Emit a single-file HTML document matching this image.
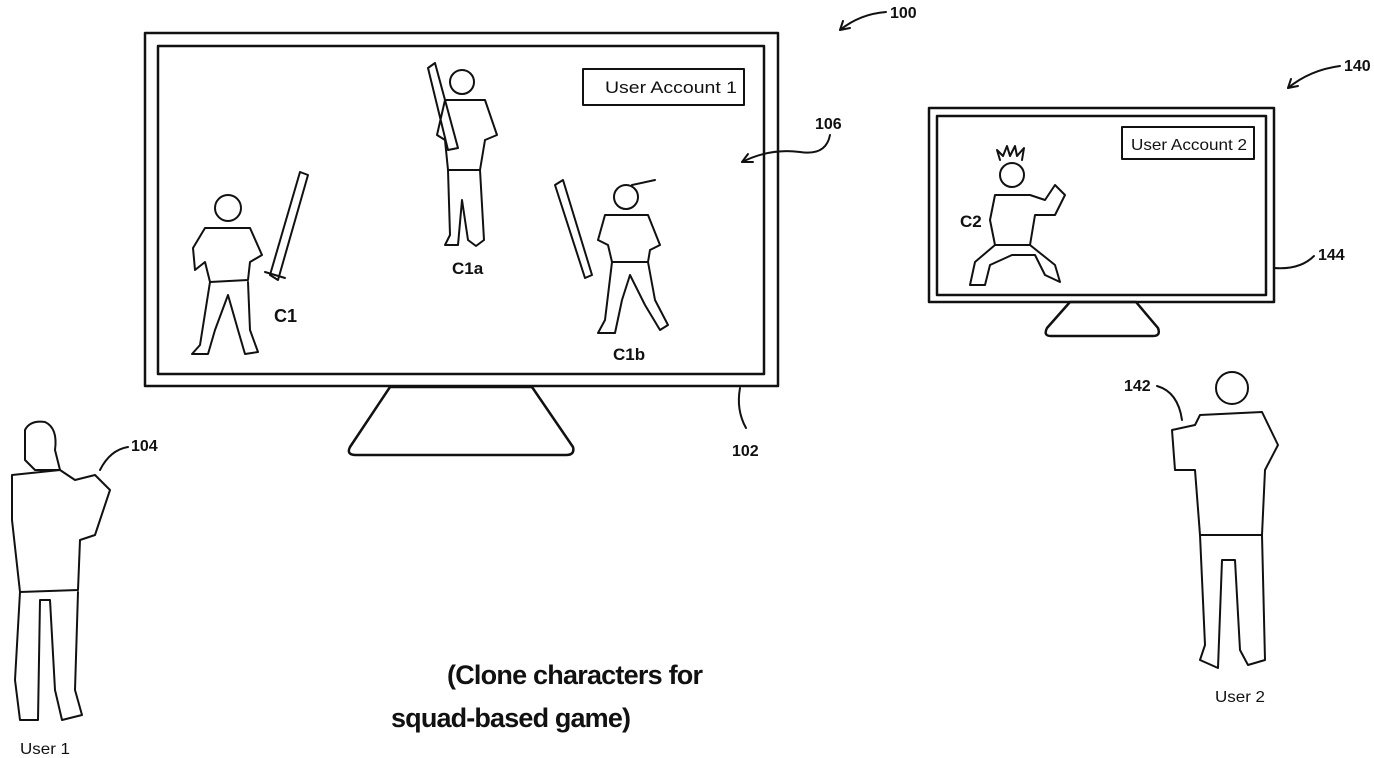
<!DOCTYPE html>
<html><head><meta charset="utf-8"><style>
html,body{margin:0;padding:0;background:#fff;}
svg{display:block;}
text{font-family:"Liberation Sans",sans-serif;fill:#111;}
</style></head><body>
<svg width="1374" height="758" viewBox="0 0 1374 758" xmlns="http://www.w3.org/2000/svg" fill="none" stroke="#111" stroke-width="2.5" stroke-linejoin="round" stroke-linecap="round">
<rect x="145" y="33" width="633" height="353"/>
<rect x="158" y="46" width="606" height="328"/>
<path d="M390 387 L532 387 L573 447 Q575 455 566 455 L356 455 Q346 455 350 447 Z"/>
<rect x="583" y="69" width="161" height="36" stroke-width="2"/>
<text x="605" y="93" font-size="17" stroke="none" textLength="132" lengthAdjust="spacingAndGlyphs">User Account 1</text>
<rect x="929" y="108" width="345" height="194"/>
<rect x="937" y="116" width="329" height="179"/>
<path d="M1070 302 L1136 302 L1158 328 Q1161 336 1153 336 L1051 336 Q1043 336 1047 328 Z"/>
<rect x="1122" y="127" width="132" height="32" stroke-width="2"/>
<text x="1131" y="150" font-size="16" stroke="none" textLength="116" lengthAdjust="spacingAndGlyphs">User Account 2</text>
<g stroke-width="2">
<path d="M886 12 Q860 14 840 30"/><path d="M840 30 l10 -2 M840 30 l3 -9"/>
<path d="M1340 66 Q1310 70 1288 88"/><path d="M1288 88 l10 -2 M1288 88 l3 -9"/>
<path d="M830 135 Q826 156 800 152 Q770 148 742 162"/><path d="M742 162 l11 0 M742 162 l6 -8"/>
<path d="M1314 256 Q1300 270 1274 268"/>
<path d="M740 388 Q736 410 746 428"/>
<path d="M128 447 Q110 450 100 470"/>
<path d="M1157 386 Q1178 392 1182 420"/>
</g>
<g stroke="none" font-weight="bold">
<text x="890" y="18" font-size="16">100</text>
<text x="1344" y="71" font-size="16">140</text>
<text x="815" y="129" font-size="16">106</text>
<text x="1318" y="260" font-size="16">144</text>
<text x="732" y="456" font-size="16">102</text>
<text x="131" y="451" font-size="16">104</text>
<text x="1124" y="391" font-size="16">142</text>
<text x="274" y="322" font-size="18">C1</text>
<text x="452" y="274" font-size="17">C1a</text>
<text x="613" y="360" font-size="17">C1b</text>
<text x="960" y="227" font-size="17">C2</text>
</g>
<text x="20" y="754" font-size="16" stroke="none" textLength="50" lengthAdjust="spacingAndGlyphs">User 1</text>
<text x="1215" y="702" font-size="16" stroke="none" textLength="50" lengthAdjust="spacingAndGlyphs">User 2</text>
<text x="447" y="684" font-size="27" font-weight="bold" stroke="none" textLength="256">(Clone characters for</text>
<text x="391" y="727" font-size="27" font-weight="bold" stroke="none" textLength="240">squad-based game)</text>
<g stroke-width="2">
<circle cx="228" cy="208" r="13"/>
<path d="M205 228 L250 228 L262 255 L250 262 L248 280 L210 282 L205 262 L195 270 L193 248 Z"/>
<path d="M210 282 L200 345 L192 354 L208 354 L215 330 L228 295 L238 330 L245 354 L258 352 L250 330 L248 282"/>
<path d="M270 275 L300 172 L308 175 L278 280 Z"/>
<path d="M265 272 L285 278"/>
</g>
<g stroke-width="2">
<circle cx="462" cy="82" r="12"/>
<path d="M445 100 L485 100 L497 135 L485 140 L480 170 L448 170 L445 140 L437 135 Z"/>
<path d="M448 170 L450 235 L445 245 L458 245 L462 200 L468 240 L476 246 L484 240 L480 170"/>
<path d="M448 150 L428 68 L435 63 L458 148 Z"/>
</g>
<g stroke-width="2">
<circle cx="626" cy="197" r="12"/>
<path d="M632 185 L655 180"/>
<path d="M605 215 L648 215 L660 245 L650 250 L648 262 L612 262 L608 245 L598 240 Z"/>
<path d="M612 262 L605 320 L598 333 L615 333 L622 300 L630 275 L645 305 L660 330 L668 325 L655 300 L648 262"/>
<path d="M585 278 L555 185 L563 180 L592 275 Z"/>
</g>
<g stroke-width="2">
<circle cx="1012" cy="175" r="12"/>
<path d="M1000 160 l-3 -10 l6 6 l4 -10 l3 10 l5 -10 l2 10 l7 -8 l-2 12"/>
<path d="M995 195 L1030 195 L1045 200 L1055 185 L1065 195 L1055 215 L1035 215 L1030 245 L995 245 L990 220 Z"/>
<path d="M995 245 L975 262 L970 285 L985 285 L990 265 L1012 255 L1035 255 L1045 275 L1060 282 L1055 265 L1030 245"/>
</g>
<g stroke-width="2">
<path d="M25 430 Q30 420 45 422 Q58 428 55 450 L60 470 L35 470 L25 460 Z"/>
<path d="M12 475 L60 470 L75 480 L95 475 L110 490 L95 535 L80 540 L78 590 L20 592 L12 520 Z"/>
<path d="M20 592 L15 680 L20 720 L38 720 L40 600 L50 600 L55 690 L62 720 L82 715 L75 690 L78 592"/>
</g>
<g stroke-width="2">
<circle cx="1232" cy="388" r="16"/>
<path d="M1200 415 L1262 412 L1278 445 L1265 470 L1262 535 L1200 535 L1195 470 L1175 470 L1172 430 L1195 425 Z"/>
<path d="M1200 535 L1205 645 L1200 660 L1218 668 L1222 560 L1235 560 L1240 650 L1248 665 L1265 660 L1262 535"/>
</g>
</svg>
</body></html>
